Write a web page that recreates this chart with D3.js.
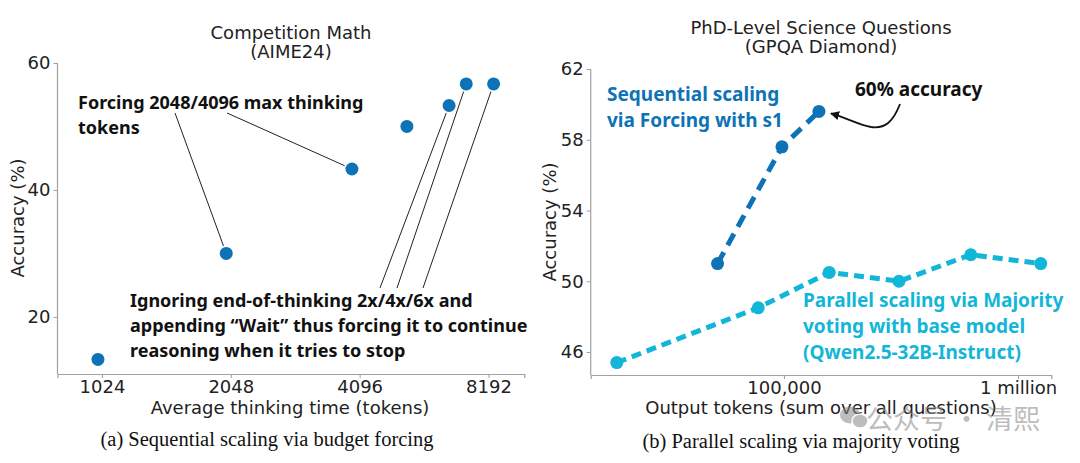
<!DOCTYPE html>
<html><head><meta charset="utf-8">
<script src="https://cdn.jsdelivr.net/npm/d3@7"></script>
<style>
html,body{margin:0;padding:0;background:#fff;}
</style></head>
<body><svg id="c" width="1080" height="463"></svg>
<script>
// ---- Data ----
const leftTicks = [1024, 2048, 4096, 8192];
const leftYTicks = [20, 40, 60];
const budgetTokens = [1002, 1998, 3929, 5281, 6627, 7268, 8421];
const budgetAcc = [13.3, 30.0, 43.3, 50.0, 53.3, 56.7, 56.7];

const rightTicks = [100000, 1000000];
const rightTickLabels = ["100,000", "1 million"];
const rightYTicks = [46, 50, 54, 58, 62];
const seqTokens = [52000, 98000, 141000];
const seqAcc = [51.0, 57.6, 59.6];
const parTokens = [19300, 77600, 156000, 310000, 628000, 1250000];
const parAcc = [45.4, 48.5, 50.5, 50.0, 51.5, 51.0];

const BLUE = "#0d73b6", CYAN = "#12b6d8", AXIS = "#a0a0a0", TXT = "#222";
const SANS = "DejaVu Sans, sans-serif";
const BOLDF = "'Noto Sans', 'Open Sans', sans-serif";
const SERIF = "'Liberation Serif', serif";
const svg = d3.select("#c");

function txt(x, y, s, opts = {}) {
  const t = svg.append("text").attr("x", x).attr("y", y)
    .style("font-family", opts.family || SANS)
    .style("font-size", (opts.size || 18) + "px")
    .style("font-weight", opts.weight || "normal")
    .attr("fill", opts.fill || TXT)
    .attr("text-anchor", opts.anchor || "start")
    .text(s);
  if (opts.transform) t.attr("transform", opts.transform).attr("x", 0).attr("y", 0);
  return t;
}

function styleAxis(g){
  g.select(".domain").attr("stroke", AXIS).attr("stroke-width", 1.2);
  g.selectAll(".tick line").attr("stroke", AXIS).attr("stroke-width", 1);
  g.selectAll(".tick text").attr("fill", TXT).style("font-size", "18px").style("font-family", SANS);
}

// ---- Left chart ----
const xL = d3.scaleLog().base(2).domain([806, 9933]).range([57.5, 524.3]);
const yL = d3.scaleLinear().domain([11, 60]).range([374, 63]);
const gLx = svg.append("g").attr("transform","translate(0,374)")
  .call(d3.axisBottom(xL).tickValues(leftTicks).tickFormat(d=>String(d)).tickSizeOuter(0).tickSize(4).tickPadding(2));
styleAxis(gLx);
const gLy = svg.append("g").attr("transform","translate(57.5,0)")
  .call(d3.axisLeft(yL).tickValues(leftYTicks).tickSizeOuter(0).tickSize(4).tickPadding(3));
styleAxis(gLy);
gLy.select(".domain").attr("d", `M0,${yL(60)}V${yL(11)}`);

txt(291, 39, "Competition Math", {anchor:"middle"});
txt(291, 58, "(AIME24)", {anchor:"middle"});
txt(290, 414, "Average thinking time (tokens)", {anchor:"middle"});
txt(0, 0, "Accuracy (%)", {anchor:"middle", transform:"translate(24,218) rotate(-90)"});

// annotation lines (left)
function leader(sx, sy, px, py, gap) {
  const ang = Math.atan2(sy-py, sx-px);
  svg.append("line").attr("x1",sx).attr("y1",sy)
    .attr("x2",px+Math.cos(ang)*gap).attr("y2",py+Math.sin(ang)*gap)
    .attr("stroke","#222").attr("stroke-width",1);
}
[[175,113,1],[227,113,2]].forEach(([sx,sy,i]) => leader(sx, sy, xL(budgetTokens[i]), yL(budgetAcc[i]), 8));
[[380,288,4],[397,288,5],[423,288,6]].forEach(([sx,sy,i]) => leader(sx, sy, xL(budgetTokens[i]), yL(budgetAcc[i]), 8));

svg.selectAll(".bp").data(budgetTokens).join("circle").attr("class","bp")
  .attr("cx",(d)=>xL(d)).attr("cy",(d,i)=>yL(budgetAcc[i])).attr("r",6.5).attr("fill",BLUE);

const B = {family: BOLDF, weight: "bold", size: 18, fill: "#111"};
txt(78, 109, "Forcing 2048/4096 max thinking", B);
txt(78, 134, "tokens", B);
["Ignoring end-of-thinking 2x/4x/6x and","appending \u201cWait\u201d thus forcing it to continue","reasoning when it tries to stop"]
  .forEach((t,i) => txt(130, 307+i*25, t, B));

// ---- Right chart ----
const xR = d3.scaleLog().domain([14930, 1387000]).range([590.7, 1051.3]);
const yR = d3.scaleLinear().domain([44.7, 62]).range([375, 69]);
const gRx = svg.append("g").attr("transform","translate(0,375)")
  .call(d3.axisBottom(xR).tickValues(rightTicks).tickFormat((d,i)=>rightTickLabels[i]).tickSizeOuter(0).tickSize(4).tickPadding(2));
styleAxis(gRx);
const gRy = svg.append("g").attr("transform","translate(590.7,0)")
  .call(d3.axisLeft(yR).tickValues(rightYTicks).tickSizeOuter(0).tickSize(4).tickPadding(3));
styleAxis(gRy);
gRy.select(".domain").attr("d", `M0,${yR(62)}V${yR(44.7)}`);

txt(821, 34, "PhD-Level Science Questions", {anchor:"middle"});
txt(821, 53, "(GPQA Diamond)", {anchor:"middle"});
txt(821, 414, "Output tokens (sum over all questions)", {anchor:"middle"});
txt(0, 0, "Accuracy (%)", {anchor:"middle", transform:"translate(556,222) rotate(-90)"});

const line = (xs,ys)=>d3.line().x((d)=>xR(d)).y((d,i)=>yR(ys[i]))(xs);
svg.append("path").attr("d",line(parTokens,parAcc)).attr("fill","none").attr("stroke",CYAN).attr("stroke-width",5).attr("stroke-dasharray","10,6");
svg.selectAll(".pp").data(parTokens).join("circle").attr("class","pp")
  .attr("cx",(d)=>xR(d)).attr("cy",(d,i)=>yR(parAcc[i])).attr("r",6.5).attr("fill",CYAN);
svg.append("path").attr("d",line(seqTokens,seqAcc)).attr("fill","none").attr("stroke",BLUE).attr("stroke-width",5).attr("stroke-dasharray","13,8");
svg.selectAll(".sp").data(seqTokens).join("circle").attr("class","sp")
  .attr("cx",(d)=>xR(d)).attr("cy",(d,i)=>yR(seqAcc[i])).attr("r",6.5).attr("fill",BLUE);

const BR = {...B, size: 19};
txt(607, 101, "Sequential scaling", {...BR, fill: BLUE});
txt(607, 127, "via Forcing with s1", {...BR, fill: BLUE});
txt(855, 96, "60% accuracy", BR);
["Parallel scaling via Majority","voting with base model","(Qwen2.5-32B-Instruct)"]
  .forEach((t,i) => txt(803, 307+i*26, t, {...BR, fill: CYAN}));

// curved arrow
const defs = svg.append("defs");
defs.append("marker").attr("id","ah").attr("viewBox","0 0 10 10").attr("refX",9).attr("refY",5)
  .attr("markerWidth",9).attr("markerHeight",9).attr("markerUnits","userSpaceOnUse").attr("orient","auto")
  .append("path").attr("d","M0,0 L10,5 L0,10 z").attr("fill","#111");
const tip = [xR(seqTokens[2])+12, yR(seqAcc[2])+2];
svg.append("path").attr("d",`M900,104 C893,122 885,129 871,127 C859,125 847,118 ${tip[0]},${tip[1]}`)
  .attr("fill","none").attr("stroke","#111").attr("stroke-width",1.8).attr("marker-end","url(#ah)");

// captions
txt(267, 446, "(a)  Sequential scaling via budget forcing", {family: SERIF, size: 20.5, fill: "#111", anchor: "middle"});
txt(801, 448, "(b)  Parallel scaling via majority voting", {family: SERIF, size: 20.5, fill: "#111", anchor: "middle"});

// watermark
const wm = svg.append("g").attr("opacity",0.55);
wm.append("ellipse").attr("cx",850).attr("cy",415).attr("rx",10).attr("ry",8.5).attr("fill","#888");
wm.append("ellipse").attr("cx",860).attr("cy",421).attr("rx",8).attr("ry",7).attr("fill","#888").attr("stroke","#fff").attr("stroke-width",1.5);
wm.append("text").attr("x",866).attr("y",429).style("font-family","'Noto Sans CJK SC', sans-serif").style("font-size","27px").attr("fill","#888").text("公众号 · 清熙");
</script></body></html>
